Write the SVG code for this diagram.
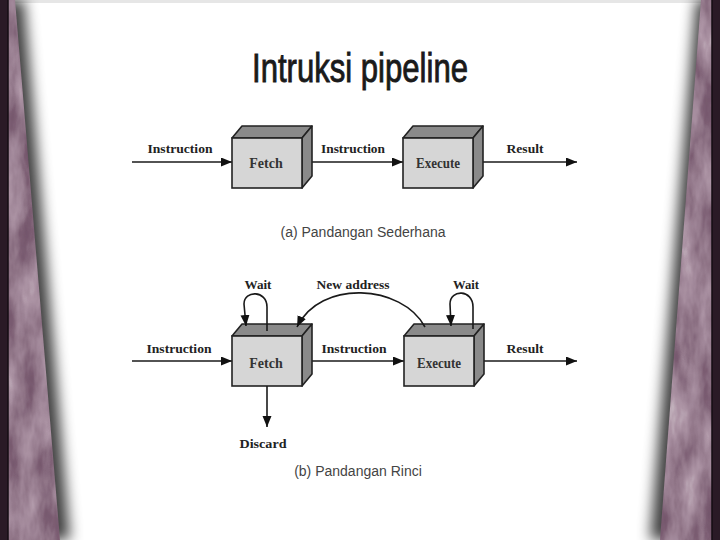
<svg xmlns="http://www.w3.org/2000/svg" width="720" height="540" viewBox="0 0 720 540">
<defs>
<style>
.lbl{font-family:"Liberation Serif","Times New Roman",serif;font-weight:bold;font-size:13px;fill:#222;text-anchor:middle}
.nm{font-family:"Liberation Serif","Times New Roman",serif;font-weight:bold;font-size:14px;fill:#333;text-anchor:middle}
.cap{font-family:"Liberation Sans",Arial,sans-serif;font-size:14px;fill:#444;text-anchor:middle}
.ln{fill:none;stroke:#1a1a1a;stroke-width:1.6}
.front{fill:#d6d6d6;stroke:#222;stroke-width:1.6}
.side{fill:#8a8a8a;stroke:#222;stroke-width:1.6;stroke-linejoin:round}
</style>
<marker id="ah" markerUnits="userSpaceOnUse" markerWidth="12" markerHeight="10" refX="11" refY="4.5" orient="auto">
<path d="M0,0 L11,4.5 L0,9 z" fill="#111"/>
</marker>
<filter id="marble" x="0" y="0" width="1" height="1">
<feTurbulence type="fractalNoise" baseFrequency="0.05 0.018" numOctaves="4" seed="7" result="t"/>
<feColorMatrix in="t" type="saturate" values="0" result="g"/>
<feComponentTransfer in="g" result="c">
<feFuncR type="table" tableValues="0.1 0.2 0.42 0.78"/>
<feFuncG type="table" tableValues="0.05 0.11 0.3 0.72"/>
<feFuncB type="table" tableValues="0.09 0.17 0.38 0.75"/>
<feFuncA type="table" tableValues="1 1"/>
</feComponentTransfer>
<feComposite in="c" in2="SourceGraphic" operator="in"/>
</filter>
<filter id="blur" x="-50%" y="-5%" width="200%" height="110%">
<feGaussianBlur stdDeviation="7"/>
</filter>
</defs>

<rect width="720" height="540" fill="#ffffff"/>
<rect width="720" height="3" fill="#e6e6e6"/>

<g id="curtains">
<polygon points="0,0 24,0 70,540 0,540" fill="#000" opacity="0.75" filter="url(#blur)"/>
<polygon points="696,0 720,0 720,540 650,540" fill="#000" opacity="0.75" filter="url(#blur)"/>
<polygon points="8,0 15,0 60,540 8,540" fill="#5a3a52" filter="url(#marble)"/>
<polygon points="701,0 712,0 712,540 660,540" fill="#5a3a52" filter="url(#marble)"/>
<rect x="0" y="0" width="8" height="540" fill="#2a1a26"/>
<rect x="712" y="0" width="8" height="540" fill="#2a1a26"/>
<line x1="8" y1="0" x2="8" y2="540" stroke="#150c13" stroke-width="1.5"/>
<line x1="712" y1="0" x2="712" y2="540" stroke="#150c13" stroke-width="1.5"/>
</g>

<text x="360" y="82" font-family="Liberation Sans, Arial, sans-serif" font-size="40" fill="#1a1a1a" stroke="#1a1a1a" stroke-width="0.9" text-anchor="middle" textLength="216" lengthAdjust="spacingAndGlyphs">Intruksi pipeline</text>

<g id="connectors">
<line class="ln" x1="132" y1="162" x2="232" y2="162" marker-end="url(#ah)"/>
<line class="ln" x1="302" y1="162" x2="403" y2="162" marker-end="url(#ah)"/>
<line class="ln" x1="473" y1="162" x2="577" y2="162" marker-end="url(#ah)"/>
<line class="ln" x1="132" y1="361" x2="232" y2="361" marker-end="url(#ah)"/>
<line class="ln" x1="302" y1="361" x2="404" y2="361" marker-end="url(#ah)"/>
<line class="ln" x1="474" y1="361" x2="577" y2="361" marker-end="url(#ah)"/>
</g>

<g id="fetch-a" transform="translate(232,126)">
<polygon class="side" points="0,12 10,0 80,0 70,12"/>
<polygon class="side" points="70,12 80,0 80,50 70,62"/>
<rect class="front" x="0" y="12" width="70" height="50"/>
<text class="nm" x="34" y="42">Fetch</text>
</g>
<g id="execute-a" transform="translate(403,126)">
<polygon class="side" points="0,12 10,0 80,0 70,12"/>
<polygon class="side" points="70,12 80,0 80,50 70,62"/>
<rect class="front" x="0" y="12" width="70" height="50"/>
<text class="nm" x="35" y="42" textLength="44" lengthAdjust="spacingAndGlyphs">Execute</text>
</g>

<g id="labels-a">
<text class="lbl" x="180" y="153" textLength="65" lengthAdjust="spacingAndGlyphs">Instruction</text>
<text class="lbl" x="353" y="153" textLength="64" lengthAdjust="spacingAndGlyphs">Instruction</text>
<text class="lbl" x="525" y="153" textLength="37" lengthAdjust="spacingAndGlyphs">Result</text>
<text class="cap" x="363" y="237">(a) Pandangan Sederhana</text>
</g>

<g id="fetch-b" transform="translate(232,324)">
<polygon class="side" points="0,12 10,0 80,0 70,12"/>
<polygon class="side" points="70,12 80,0 80,50 70,62"/>
<rect class="front" x="0" y="12" width="70" height="50"/>
<text class="nm" x="34" y="44">Fetch</text>
</g>
<g id="execute-b" transform="translate(404,324)">
<polygon class="side" points="0,12 10,0 80,0 70,12"/>
<polygon class="side" points="70,12 80,0 80,50 70,62"/>
<rect class="front" x="0" y="12" width="70" height="50"/>
<text class="nm" x="35" y="44" textLength="44" lengthAdjust="spacingAndGlyphs">Execute</text>
</g>

<g id="connectors-b">
<path class="ln" d="M267,331 L267,307 C267,290 244,290 244,304 L246,326" marker-end="url(#ah)"/>
<path class="ln" d="M473,329 L473,307 C473,289 450,289 450,304 L451,326" marker-end="url(#ah)"/>
<path class="ln" d="M425,327 C402,284 320,279 297,327" marker-end="url(#ah)"/>
<line class="ln" x1="267" y1="386" x2="267" y2="427" stroke-width="2" marker-end="url(#ah)"/>
</g>

<g id="labels-b">
<text class="lbl" x="258" y="289" textLength="27" lengthAdjust="spacingAndGlyphs">Wait</text>
<text class="lbl" x="353" y="289" textLength="73" lengthAdjust="spacingAndGlyphs">New address</text>
<text class="lbl" x="466" y="289" textLength="26" lengthAdjust="spacingAndGlyphs">Wait</text>
<text class="lbl" x="179" y="353" textLength="65" lengthAdjust="spacingAndGlyphs">Instruction</text>
<text class="lbl" x="354" y="353" textLength="65" lengthAdjust="spacingAndGlyphs">Instruction</text>
<text class="lbl" x="525" y="353" textLength="37" lengthAdjust="spacingAndGlyphs">Result</text>
<text class="lbl" x="263" y="448" textLength="47" lengthAdjust="spacingAndGlyphs">Discard</text>
<text class="cap" x="358" y="476">(b) Pandangan Rinci</text>
</g>
</svg>
